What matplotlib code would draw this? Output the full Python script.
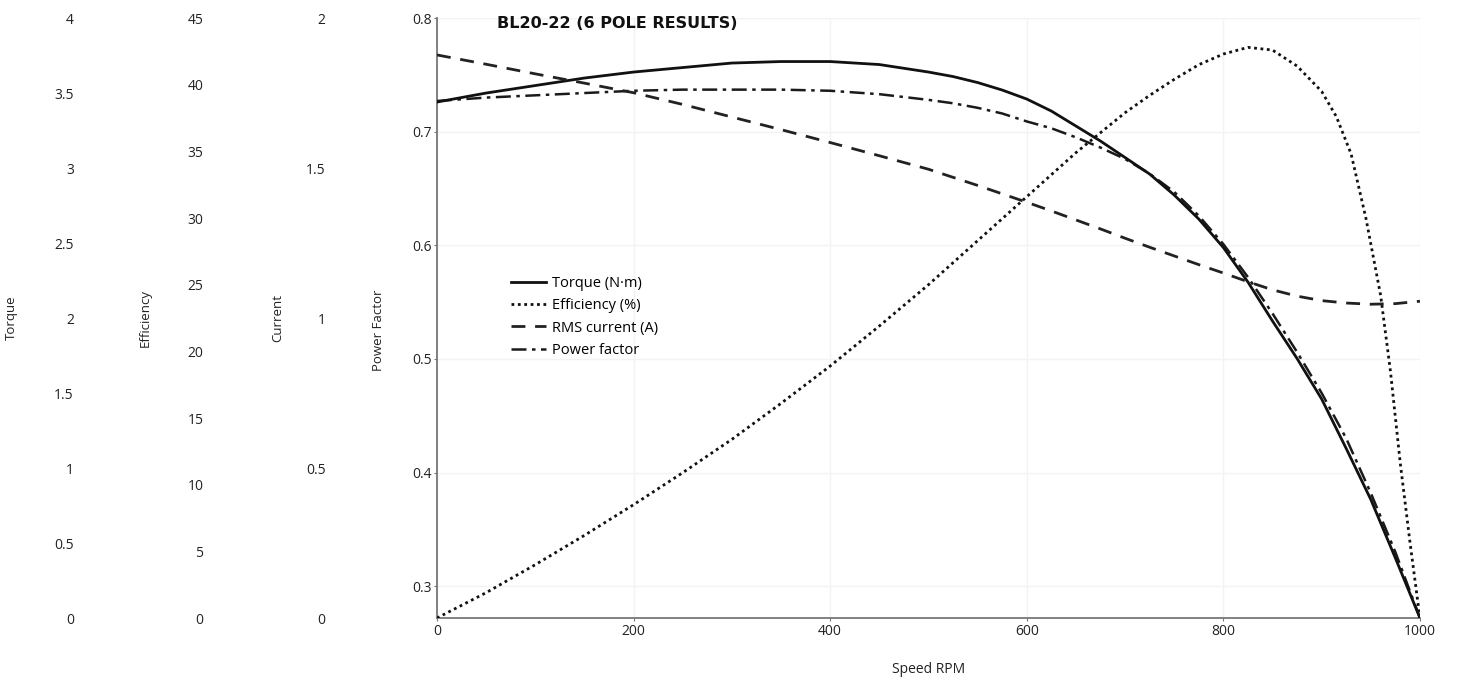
import numpy as np
import matplotlib.pyplot as plt
from matplotlib.ticker import FuncFormatter

# values
speed = [0, 50, 100, 150, 200, 250, 300, 350, 400, 450, 500, 525, 550, 575,
         600, 625, 650, 675, 700, 725, 750, 775, 800, 825, 850, 875, 900,
         925, 950, 975, 1000]
torque = [3.44, 3.50, 3.55, 3.60, 3.64, 3.67, 3.70, 3.71, 3.71, 3.69, 3.64,
          3.61, 3.57, 3.52, 3.46, 3.38, 3.28, 3.18, 3.07, 2.96, 2.82, 2.66,
          2.47, 2.24, 1.98, 1.73, 1.46, 1.13, 0.79, 0.40, 0.0]
current = [1.877, 1.846, 1.814, 1.783, 1.751, 1.712, 1.670, 1.628, 1.585,
           1.541, 1.496, 1.469, 1.442, 1.414, 1.386, 1.357, 1.327, 1.297,
           1.266, 1.236, 1.207, 1.178, 1.150, 1.121, 1.094, 1.073, 1.058,
           1.050, 1.046, 1.048, 1.056]
pf = [0.727, 0.730, 0.732, 0.734, 0.736, 0.737, 0.737, 0.737, 0.736, 0.733,
      0.728, 0.725, 0.721, 0.716, 0.709, 0.703, 0.695, 0.686, 0.676, 0.663,
      0.647, 0.626, 0.601, 0.572, 0.540, 0.506, 0.470, 0.430, 0.382, 0.330,
      0.272]

# efficiency needs more points near the steep drop
speed_eff = [0, 50, 100, 150, 200, 250, 300, 350, 400, 450, 500, 550, 600,
             650, 700, 725, 750, 775, 800, 825, 850, 875, 900, 915, 930,
             945, 960, 970, 980, 990, 1000]
efficiency = [0.0, 1.9, 4.0, 6.2, 8.5, 10.9, 13.4, 16.1, 18.9, 21.9, 25.0,
              28.3, 31.6, 34.9, 37.9, 39.2, 40.4, 41.5, 42.3, 42.8, 42.6,
              41.4, 39.5, 37.6, 34.8, 30.0, 24.2, 18.5, 11.6, 5.6, 0.0]

torque_ticks = [0, 0.5, 1, 1.5, 2, 2.5, 3, 3.5, 4]
eff_ticks = [0, 5, 10, 15, 20, 25, 30, 35, 40, 45]
current_ticks = [0, 0.5, 1, 1.5, 2]
pf_ticks = [0.3, 0.4, 0.5, 0.6, 0.7, 0.8]
speed_ticks = [0, 200, 400, 600, 800, 1000]

plt.rcParams['font.family'] = ['Open Sans', 'DejaVu Sans']
fmt = FuncFormatter(lambda v, p: '%g' % v)

fig = plt.figure(figsize=(14.61, 6.81), dpi=100)
ax = fig.add_axes([0.2991, 0.0925, 0.6728, 0.881])

# power factor axis (the real one)
ax.plot(speed, pf, color='#1a1a1a', lw=1.8, ls=(0, (6, 2.2, 1.4, 2.2)),
        label='Power factor', zorder=3)
ax.set_xlim(0, 1000)
ax.set_ylim(0.272, 0.8)
ax.set_xticks(speed_ticks)
ax.set_yticks(pf_ticks)
ax.yaxis.set_major_formatter(fmt)
ax.grid(True, color='#f3f3f3', lw=1)
ax.set_axisbelow(True)
for s in ['top', 'right']:
    ax.spines[s].set_visible(False)
for s in ['left', 'bottom']:
    ax.spines[s].set_color('#777777')
    ax.spines[s].set_linewidth(1.3)
ax.tick_params(axis='both', length=2, width=0.8, color='#777777',
               labelsize=10, labelcolor='#222222', pad=2)
ax.set_xlabel('Speed RPM', fontsize=10, color='#222222', labelpad=17)
ax.set_ylabel('Power Factor', fontsize=9.5, color='#222222')
ax.yaxis.set_label_coords(-0.053, 0.48)

extra = [
    ('Torque', torque_ticks, (0, 4), -0.361, -0.426),
    ('Efficiency', eff_ticks, (0, 45), -0.229, -0.290),
    ('Current', current_ticks, (0, 2), -0.105, -0.155),
]
axes = {}
for name, ticks, lims, spine_pos, lab_pos in extra:
    a = ax.twinx()
    a.set_ylim(*lims)
    a.set_yticks(ticks)
    a.yaxis.set_major_formatter(fmt)
    a.yaxis.set_ticks_position('left')
    a.yaxis.set_label_position('left')
    a.spines['left'].set_position(('axes', spine_pos))
    for s in ['top', 'right', 'bottom', 'left']:
        a.spines[s].set_visible(False)
    a.tick_params(axis='y', length=0, labelsize=10, labelcolor='#222222', pad=6)
    a.set_ylabel(name, fontsize=9.5, color='#222222')
    a.yaxis.set_label_coords(lab_pos, 0.5)
    axes[name] = a

l_t, = axes['Torque'].plot(speed, torque, color='#111111', lw=2,
                           label='Torque (N·m)')
l_e, = axes['Efficiency'].plot(speed_eff, efficiency, color='#111111', lw=2,
                               ls=(0, (1, 1.3)), label='Efficiency (%)')
l_c, = axes['Current'].plot(speed, current, color='#222222', lw=2,
                            ls=(0, (5, 3.5)), label='RMS current (A)')
l_p = ax.get_lines()[0]

axes['Current'].legend([l_t, l_e, l_c, l_p],
                       [l.get_label() for l in [l_t, l_e, l_c, l_p]],
                       loc='upper left', bbox_to_anchor=(0.062, 0.592),
                       frameon=False, fontsize=10.5, handlelength=2.4,
                       handletextpad=0.4, labelspacing=0.5)

fig.text(497 / 1461, 1 - 23 / 681, 'BL20-22 (6 POLE RESULTS)',
         family='DejaVu Sans', fontweight='bold', fontsize=11.5,
         va='center', ha='left', color='#111111')

fig.savefig('out.png', dpi=100)
